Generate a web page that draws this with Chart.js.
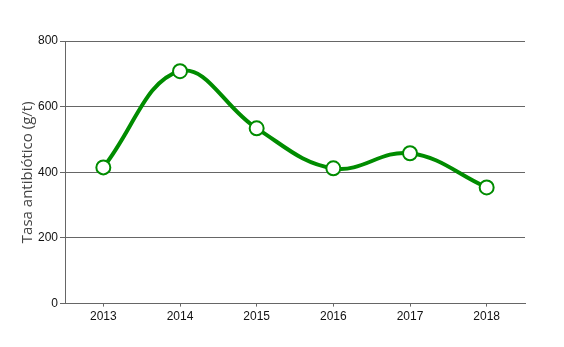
<!DOCTYPE html>
<html>
<head>
<meta charset="utf-8">
<script src="https://cdn.jsdelivr.net/npm/chart.js@4"></script>
<style>
  html, body { margin: 0; padding: 0; background: #fff; }
  #wrap { width: 564px; height: 347px; }
</style>
</head>
<body>
<div id="wrap"><canvas id="chart" width="564" height="347"></canvas></div>
<script>
// data
const years = ["2013", "2014", "2015", "2016", "2017", "2018"];
const tasa = [415, 708, 534, 412, 458, 354];
const yTicks = [0, 200, 400, 600, 800];

const GREEN = "#008c00";
const GRID = "#666666";
const FONT = "'Liberation Sans', sans-serif";

new Chart(document.getElementById("chart").getContext("2d"), {
  type: "line",
  data: {
    labels: years,
    datasets: [{
      label: "Tasa antibiótico",
      data: tasa,
      borderColor: GREEN,
      borderWidth: 4,
      tension: 0.4,
      pointRadius: 7,
      pointHoverRadius: 7,
      pointBorderWidth: 2,
      pointBackgroundColor: "#ffffff",
      pointBorderColor: GREEN
    }]
  },
  options: {
    responsive: false,
    animation: false,
    layout: { padding: { left: 19, right: 39, top: 41, bottom: 20 } },
    plugins: {
      legend: { display: false },
      tooltip: { enabled: false }
    },
    scales: {
      x: {
        offset: true,
        grid: {
          offset: false,
          drawOnChartArea: false,
          color: GRID,
          tickLength: 3
        },
        border: { color: GRID, width: 1 },
        ticks: { color: "#111", font: { family: FONT, size: 12 }, padding: 3 }
      },
      y: {
        min: 0,
        max: 800,
        afterBuildTicks: s => { s.ticks = yTicks.map(v => ({ value: v })); },
        afterFit: s => { s.width = 46; },
        grid: { color: GRID, tickLength: 5 },
        border: { color: GRID, width: 1 },
        ticks: { color: "#111", font: { family: FONT, size: 12 }, padding: 2 },
        title: {
          display: true,
          text: "Tasa antibiótico (g/t)",
          color: "#444",
          font: { family: "'Open Sans', sans-serif", size: 15 },
          padding: 0
        }
      }
    }
  }
});
</script>
</body>
</html>
